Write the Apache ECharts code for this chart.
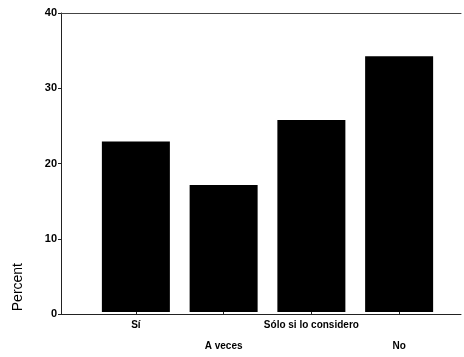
<!DOCTYPE html>
<html><head><meta charset="utf-8">
<script src="https://cdn.jsdelivr.net/npm/echarts@6/dist/echarts.min.js"></script>
<style>html,body{margin:0;padding:0;background:#fff}#c{width:464px;height:357px}</style>
</head><body><div id="c"></div>
<script>
const categories = ['Sí', 'A veces', 'Sólo si lo considero', 'No'];
const percentValues = [22.8, 17.0, 25.7, 34.2];
const yTicks = [0, 10, 20, 30, 40];

const chart = echarts.init(document.getElementById('c'), null, {renderer: 'canvas'});
const lineStyle = {color: '#222', width: 1};
const option = {
  animation: false,
  backgroundColor: '#fff',
  grid: [
    {left: 61, right: 3, top: 13, bottom: 43},
    {left: 92, width: 351, top: 13, bottom: 43}
  ],
  xAxis: [
    {gridIndex: 0, type: 'value', min: 0, max: 1, position: 'bottom',
     axisLine: {show: true, lineStyle: lineStyle}, axisTick: {show: false},
     axisLabel: {show: false}, splitLine: {show: false}},
    {gridIndex: 0, type: 'value', min: 0, max: 1, position: 'top',
     axisLine: {show: true, lineStyle: {color: '#444', width: 1}}, axisTick: {show: false},
     axisLabel: {show: false}, splitLine: {show: false}},
    {gridIndex: 1, type: 'category', data: categories,
     axisLine: {show: false},
     axisTick: {show: true, alignWithLabel: true, length: 3, lineStyle: lineStyle},
     axisLabel: {
       interval: 0, margin: 3, color: '#000',
       fontFamily: 'Liberation Sans, Arial, sans-serif', fontWeight: 'bold', fontSize: 10,
       lineHeight: 21,
       formatter: function (v, i) { return i % 2 === 1 ? '\n' + v : v; }
     }}
  ],
  yAxis: [
    {gridIndex: 0, type: 'value', min: yTicks[0], max: yTicks[yTicks.length - 1], interval: 10,
     axisLine: {show: true, lineStyle: lineStyle},
     axisTick: {show: true, length: 3, lineStyle: lineStyle},
     axisLabel: {margin: 4, color: '#000', fontFamily: 'Liberation Sans, Arial, sans-serif',
                 fontWeight: 'bold', fontSize: 11},
     splitLine: {show: false}},
    {gridIndex: 1, type: 'value', min: yTicks[0], max: yTicks[yTicks.length - 1],
     show: false, splitLine: {show: false}}
  ],
  graphic: [
    {type: 'text', left: 11, top: 263, rotation: Math.PI / 2,
     style: {text: 'Percent', fill: '#000', font: '14px "Liberation Sans", Arial, sans-serif'}}
  ],
  series: [
    {type: 'bar', xAxisIndex: 2, yAxisIndex: 1, data: percentValues,
     barWidth: 68, itemStyle: {color: '#000'}}
  ]
};
chart.setOption(option);
</script>
</body></html>
